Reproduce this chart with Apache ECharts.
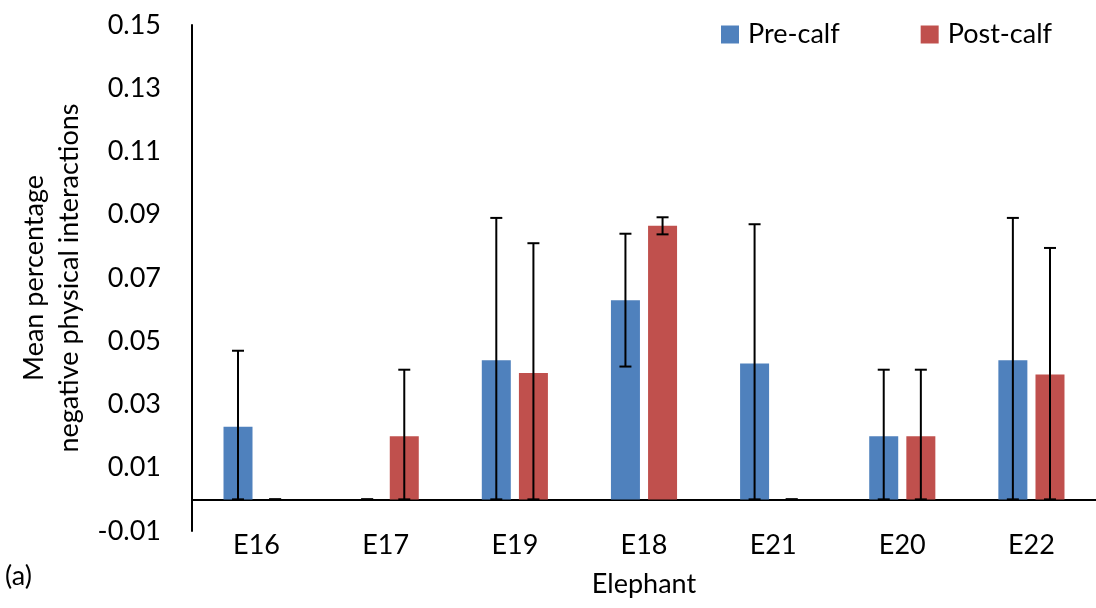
<!DOCTYPE html>
<html>
<head>
<meta charset="utf-8">
<script src="https://cdn.jsdelivr.net/npm/echarts@6/dist/echarts.min.js"></script>
<style>
  html, body { margin: 0; padding: 0; background: #fff; }
  #chart { width: 1096px; height: 608px; }
</style>
</head>
<body>
<div id="chart"></div>
<script>
// elephants, in the order shown on the x axis
var elephants = ['E16', 'E17', 'E19', 'E18', 'E21', 'E20', 'E22'];

// mean share of negative physical interactions
var preCalf  = [0.023, 0,     0.044, 0.063,  0.043, 0.020, 0.044];
var postCalf = [0,     0.020, 0.040, 0.0865, 0,     0.020, 0.0395];

// error bar half-lengths
var preErr  = [0.024, 0,     0.045, 0.021,  0.044, 0.021, 0.045];
var postErr = [0,     0.021, 0.041, 0.0027, 0,     0.021, 0.040];

var yTicks = { min: -0.01, max: 0.15, step: 0.02 };

var FONT = 'Lato';
var barW = 29;
var barGapRatio = 0.28;

function errRows(means, errs) {
  return means.map(function (m, i) {
    return [i, Math.max(m - errs[i], 0), m + errs[i]];
  });
}

// draws one error bar, shifted left or right onto its bar
function errorBarRenderer(side) {
  return function (params, api) {
    var dx = side * barW * (1 + barGapRatio) / 2;
    var lo = api.coord([api.value(0), api.value(1)]);
    var hi = api.coord([api.value(0), api.value(2)]);
    var x = lo[0] + dx;
    var cap = 6;
    var style = { stroke: '#000', lineWidth: 2 };
    return {
      type: 'group',
      children: [
        { type: 'line', shape: { x1: x, y1: lo[1], x2: x, y2: hi[1] }, style: style },
        { type: 'line', shape: { x1: x - cap, y1: hi[1], x2: x + cap, y2: hi[1] }, style: style },
        { type: 'line', shape: { x1: x - cap, y1: lo[1], x2: x + cap, y2: lo[1] }, style: style }
      ]
    };
  };
}

var chart = echarts.init(document.getElementById('chart'));

var option = {
  animation: false,
  textStyle: { fontFamily: FONT, color: '#000' },
  grid: { left: 192, right: 0, top: 25, bottom: 77, outerBoundsMode: 'none', containLabel: false },
  legend: {
    left: 716,
    top: 16,
    itemWidth: 18,
    itemHeight: 18,
    itemGap: 81,
    icon: 'rect',
    textStyle: { fontFamily: FONT, fontSize: 27, color: '#000', padding: [0, 0, 0, 4] },
    data: ['Pre-calf', 'Post-calf']
  },
  xAxis: {
    type: 'category',
    data: elephants,
    name: 'Elephant',
    nameLocation: 'middle',
    nameGap: 40,
    nameTextStyle: { fontFamily: FONT, fontSize: 27, color: '#000' },
    axisLine: { onZero: true, lineStyle: { color: '#000', width: 2 } },
    axisTick: { show: false },
    axisLabel: { fontFamily: FONT, fontSize: 27, color: '#000', margin: 1 }
  },
  yAxis: {
    type: 'value',
    min: yTicks.min,
    max: yTicks.max,
    interval: yTicks.step,
    name: 'Mean percentage\nnegative physical interactions',
    nameLocation: 'middle',
    nameRotate: 90,
    nameGap: 92,
    nameTextStyle: { fontFamily: FONT, fontSize: 27, color: '#000', lineHeight: 35 },
    axisLine: { show: true, lineStyle: { color: '#000', width: 2 } },
    axisTick: { show: false },
    splitLine: { show: false },
    axisLabel: {
      fontFamily: FONT, fontSize: 27, color: '#000', margin: 31,
      formatter: function (v) { return v.toFixed(2); }
    }
  },
  graphic: [{
    type: 'text',
    left: 5,
    top: 563,
    style: { text: '(a)', font: '27px ' + FONT, fill: '#000' }
  }],
  series: [
    {
      name: 'Pre-calf',
      type: 'bar',
      data: preCalf,
      barWidth: barW,
      barGap: (barGapRatio * 100) + '%',
      itemStyle: { color: '#4F81BD' }
    },
    {
      name: 'Post-calf',
      type: 'bar',
      data: postCalf,
      barWidth: barW,
      itemStyle: { color: '#C0504D' }
    },
    {
      type: 'custom',
      data: errRows(preCalf, preErr),
      renderItem: errorBarRenderer(-1),
      encode: { x: 0, y: [1, 2] },
      z: 5
    },
    {
      type: 'custom',
      data: errRows(postCalf, postErr),
      renderItem: errorBarRenderer(1),
      encode: { x: 0, y: [1, 2] },
      z: 5
    }
  ]
};

chart.setOption(option);
</script>
</body>
</html>
